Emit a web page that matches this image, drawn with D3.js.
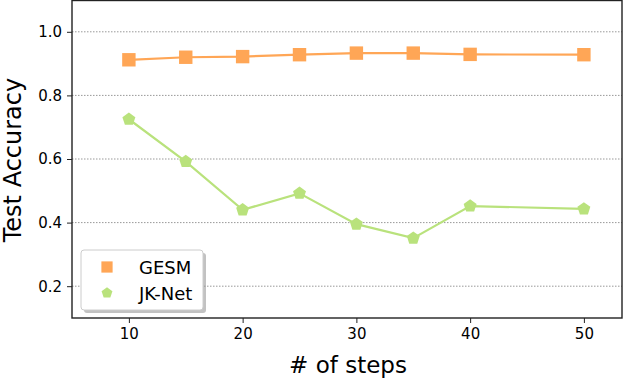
<!DOCTYPE html>
<html>
<head>
<meta charset="utf-8">
<script src="https://cdn.jsdelivr.net/npm/d3@7"></script>
<style>
  body { margin: 0; background: #fff; }
  text { font-family: "DejaVu Sans", sans-serif; fill: #000; }
</style>
</head>
<body>
<svg id="chart" width="623" height="382"></svg>
<script>
const steps = [10, 15, 20, 25, 30, 35, 40, 50];
const gesm = [0.912, 0.920, 0.922, 0.928, 0.933, 0.933, 0.929, 0.928];
const jknet = [0.725, 0.592, 0.440, 0.492, 0.395, 0.351, 0.452, 0.443];
const yTicks = [0.2, 0.4, 0.6, 0.8, 1.0];
const xTicks = [10, 20, 30, 40, 50];

(function() {
const svg = d3.select('svg#chart');
const plotLeft = 72, plotRight = 622, plotTop = 0, plotBottom = 318;

const x = d3.scaleLinear().domain([5, 53.35]).range([plotLeft, plotRight]);
const y = d3.scaleLinear().domain([0.1, 1.1]).range([plotBottom, plotTop]);

// dotted grid
svg.append('g')
  .selectAll('line')
  .data(yTicks)
  .enter()
  .append('line')
  .attr('x1', plotLeft).attr('x2', plotRight)
  .attr('y1', d => y(d)).attr('y2', d => y(d))
  .attr('stroke', '#999')
  .attr('stroke-width', 1)
  .attr('stroke-dasharray', '1.5,1.5');

// pentagon symbol (not in d3)
const symbolPentagon = {
  draw(ctx, size) {
    const r = Math.sqrt(size / 2.378);
    for (let i = 0; i < 5; i++) {
      const a = -Math.PI / 2 + i * 2 * Math.PI / 5;
      const px = r * Math.cos(a), py = r * Math.sin(a);
      if (i === 0) ctx.moveTo(px, py); else ctx.lineTo(px, py);
    }
    ctx.closePath();
  }
};

const series = [
  { name: 'GESM', values: gesm, color: '#ffa656', shape: d3.symbolSquare, size: 180 },
  { name: 'JK-Net', values: jknet, color: '#b9e27c', shape: symbolPentagon, size: 110 }
];

const line = d3.line().x(d => x(d[0])).y(d => y(d[1]));

series.forEach(s => {
  const pts = steps.map((st, i) => [st, s.values[i]]);
  svg.append('path')
    .datum(pts)
    .attr('d', line)
    .attr('fill', 'none')
    .attr('stroke', s.color)
    .attr('stroke-width', 2.2);
  svg.append('g')
    .selectAll('path')
    .data(pts)
    .enter()
    .append('path')
    .attr('transform', d => `translate(${x(d[0])},${y(d[1])})`)
    .attr('d', d3.symbol().type(s.shape).size(s.size))
    .attr('fill', s.color);
});

// frame
svg.append('rect')
  .attr('x', plotLeft).attr('y', plotTop + 0.5)
  .attr('width', plotRight - plotLeft).attr('height', plotBottom - plotTop - 0.5)
  .attr('fill', 'none')
  .attr('stroke', '#222')
  .attr('stroke-width', 1.4);

const yAxis = svg.append('g')
  .attr('transform', `translate(${plotLeft},0)`)
  .call(d3.axisLeft(y).tickValues(yTicks).tickFormat(d3.format('.1f')).tickSize(5).tickPadding(5));
const xAxis = svg.append('g')
  .attr('transform', `translate(0,${plotBottom})`)
  .call(d3.axisBottom(x).tickValues(xTicks).tickSize(5).tickPadding(5));
[yAxis, xAxis].forEach(a => {
  a.select('.domain').remove();
  a.selectAll('line').attr('stroke', '#222');
  a.selectAll('text').style('font-size', '15px').style('font-family', 'DejaVu Sans, sans-serif');
});

svg.append('text')
  .attr('x', -160)
  .attr('y', 21)
  .attr('transform', 'rotate(-90)')
  .attr('text-anchor', 'middle')
  .style('font-size', '24px')
  .text('Test Accuracy');

svg.append('text')
  .attr('x', 348)
  .attr('y', 373)
  .attr('text-anchor', 'middle')
  .style('font-size', '23px')
  .text('# of steps');

// legend
const lg = svg.append('g');
lg.append('rect')
  .attr('x', 84).attr('y', 253)
  .attr('width', 122).attr('height', 60)
  .attr('rx', 3)
  .attr('fill', '#999')
  .attr('opacity', 0.6);
lg.append('rect')
  .attr('x', 81).attr('y', 250)
  .attr('width', 122).attr('height', 60)
  .attr('rx', 3)
  .attr('fill', '#fff')
  .attr('stroke', '#ccc')
  .attr('stroke-width', 1);
series.forEach((s, i) => {
  const cy = 267 + i * 26;
  lg.append('path')
    .attr('transform', `translate(107,${cy})`)
    .attr('d', d3.symbol().type(s.shape).size(s.size * 0.7))
    .attr('fill', s.color);
  lg.append('text')
    .attr('x', 139)
    .attr('y', cy + 6.5)
    .style('font-size', '18px')
    .text(s.name);
});
})();
</script>
</body>
</html>
